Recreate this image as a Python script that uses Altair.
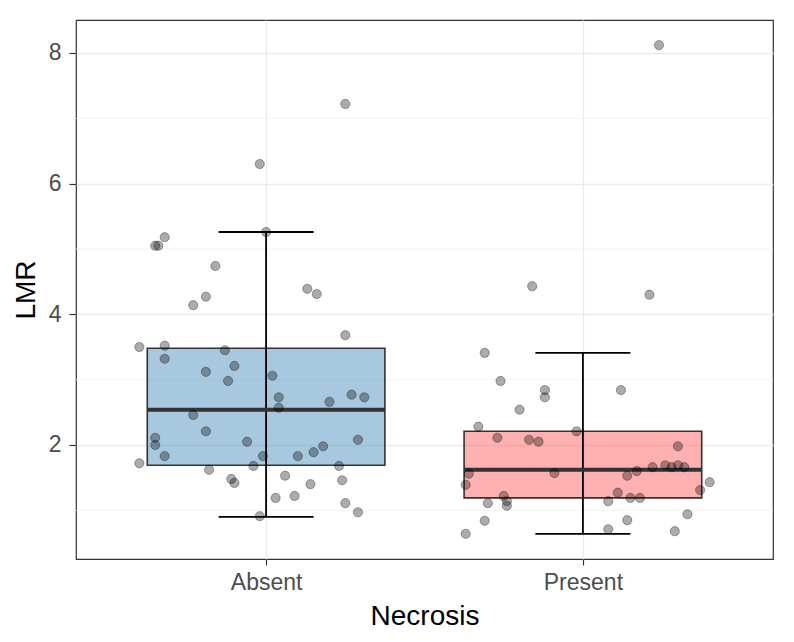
import altair as alt
import pandas as pd

# ---- data ----
categories = ["Absent", "Present"]
cat_pos = [1, 2]
box_colors = ["#5191C1", "#FF6161"]

q1 = [1.69, 1.19]
median = [2.54, 1.62]
q3 = [3.48, 2.21]
whisk_lo = [0.90, 0.64]
whisk_hi = [5.26, 3.41]

absent_lmr = [7.22, 6.30, 5.26, 5.18, 5.05, 5.05, 4.74, 4.27, 4.14, 4.39, 4.31, 3.68,
              3.50, 3.52, 3.32, 3.45, 3.21, 3.12, 2.98, 3.06, 2.73, 2.57, 2.66, 2.77,
              2.73, 2.46, 2.21, 2.11, 2.00, 1.83, 2.05, 1.83, 1.68, 1.83, 1.89, 1.98,
              2.08, 1.68, 1.72, 1.62, 1.48, 1.42, 1.53, 1.40, 1.46, 1.19, 1.22, 1.11,
              0.97, 0.91]
absent_jit = [0.25, -0.02, 0.00, -0.32, -0.35, -0.34, -0.16, -0.19, -0.23, 0.13, 0.16, 0.25,
              -0.40, -0.32, -0.32, -0.13, -0.10, -0.19, -0.12, 0.02, 0.04, 0.04, 0.20, 0.27,
              0.31, -0.23, -0.19, -0.35, -0.35, -0.32, -0.06, -0.01, -0.04, 0.10, 0.15, 0.18,
              0.29, 0.23, -0.40, -0.18, -0.11, -0.10, 0.06, 0.14, 0.24, 0.03, 0.09, 0.25,
              0.29, -0.02]

present_lmr = [8.12, 4.43, 4.30, 3.41, 2.98, 2.84, 2.73, 2.84, 2.54, 2.28, 2.21, 2.11,
               2.08, 2.05, 1.98, 1.56, 1.39, 1.57, 1.53, 1.60, 1.66, 1.69, 1.66, 1.69,
               1.66, 1.43, 1.31, 1.27, 1.19, 1.19, 1.22, 1.14, 1.07, 1.11, 1.14, 0.94,
               0.84, 0.85, 0.64, 0.71, 0.68]
present_jit = [0.24, -0.16, 0.21, -0.31, -0.26, -0.12, -0.12, 0.12, -0.20, -0.33, -0.02, -0.27,
               -0.17, -0.14, 0.30, -0.36, -0.37, -0.09, 0.14, 0.17, 0.22, 0.26, 0.28, 0.30,
               0.32, 0.40, 0.37, 0.11, 0.15, 0.18, -0.25, -0.24, -0.24, -0.30, 0.08, 0.33,
               -0.31, 0.14, -0.37, 0.08, 0.29]

y_ticks = [2, 4, 6, 8]
y_minor = [1, 3, 5, 7]

# ---- tables ----
box_df = pd.DataFrame({
    "cat": categories, "pos": cat_pos, "q1": q1, "median": median, "q3": q3,
    "lo": whisk_lo, "hi": whisk_hi,
})
box_df["bl"] = box_df["pos"] - 0.375
box_df["br"] = box_df["pos"] + 0.375
box_df["cl"] = box_df["pos"] - 0.15
box_df["cr"] = box_df["pos"] + 0.15

pts_df = pd.DataFrame({
    "x": [1 + j for j in absent_jit] + [2 + j for j in present_jit],
    "LMR": absent_lmr + present_lmr,
})
minor_df = pd.DataFrame({"y": y_minor})

FONT = "Liberation Sans"
xscale = alt.Scale(domain=[0.4, 2.6], nice=False, zero=False)
yscale = alt.Scale(domain=[0.255, 8.505], nice=False, zero=False)

xaxis = alt.Axis(values=cat_pos, title="Necrosis",
                 labelExpr="datum.value == 1 ? 'Absent' : 'Present'",
                 grid=True, gridColor="#EBEBEB", gridWidth=1.3,
                 tickColor="#333333", tickSize=6, tickWidth=1.2, domain=False,
                 labelColor="#4D4D4D", labelFontSize=23, labelFont=FONT, labelPadding=6,
                 titleFont=FONT, titleFontSize=28, titleFontWeight="normal",
                 titleColor="#000000", titlePadding=8)
yaxis = alt.Axis(values=y_ticks, title="LMR", format="d",
                 grid=True, gridColor="#EBEBEB", gridWidth=1.3,
                 tickColor="#333333", tickSize=7, tickWidth=1.2, domain=False,
                 labelColor="#4D4D4D", labelFontSize=23, labelFont=FONT, labelPadding=8,
                 titleFont=FONT, titleFontSize=28, titleFontWeight="normal",
                 titleColor="#000000", titlePadding=8)

base = alt.Chart(box_df)

minor = alt.Chart(minor_df).mark_rule(color="#F0F0F0", strokeWidth=0.8).encode(
    y=alt.Y("y:Q", scale=yscale, axis=yaxis),
    x=alt.value(0), x2=alt.value(697),
)

boxes = base.mark_rect(opacity=1, fillOpacity=0.5, stroke="#333333", strokeWidth=1.6).encode(
    x=alt.X("bl:Q", scale=xscale, axis=xaxis), x2="br:Q",
    y=alt.Y("q1:Q", scale=yscale), y2="q3:Q",
    fill=alt.Fill("cat:N", scale=alt.Scale(domain=categories, range=box_colors), legend=None),
)

whisk = base.mark_rule(color="#000000", strokeWidth=1.8).encode(
    x=alt.X("pos:Q", scale=xscale), y=alt.Y("lo:Q", scale=yscale), y2="hi:Q",
)
cap_hi = base.mark_rule(color="#000000", strokeWidth=1.8).encode(
    x=alt.X("cl:Q", scale=xscale), x2="cr:Q", y=alt.Y("hi:Q", scale=yscale),
)
cap_lo = base.mark_rule(color="#000000", strokeWidth=1.8).encode(
    x=alt.X("cl:Q", scale=xscale), x2="cr:Q", y=alt.Y("lo:Q", scale=yscale),
)
med = base.mark_rule(color="#333333", strokeWidth=4).encode(
    x=alt.X("bl:Q", scale=xscale), x2="br:Q", y=alt.Y("median:Q", scale=yscale),
)

pts = alt.Chart(pts_df).mark_point(
    filled=True, size=85, fill="#000000", fillOpacity=0.33,
    stroke="#000000", strokeOpacity=0.4, strokeWidth=0.8, opacity=1,
).encode(
    x=alt.X("x:Q", scale=xscale), y=alt.Y("LMR:Q", scale=yscale),
)

chart = alt.layer(minor, boxes, whisk, cap_hi, cap_lo, med, pts).properties(
    width=697, height=539,
    autosize=alt.AutoSizeParams(type="none"),
    padding={"left": 68, "top": 12, "right": 10, "bottom": 72},
    background="white",
).configure_view(stroke="#333333", strokeWidth=1.2)

chart.save("out.html", embed_options={"renderer": "svg", "actions": False})
